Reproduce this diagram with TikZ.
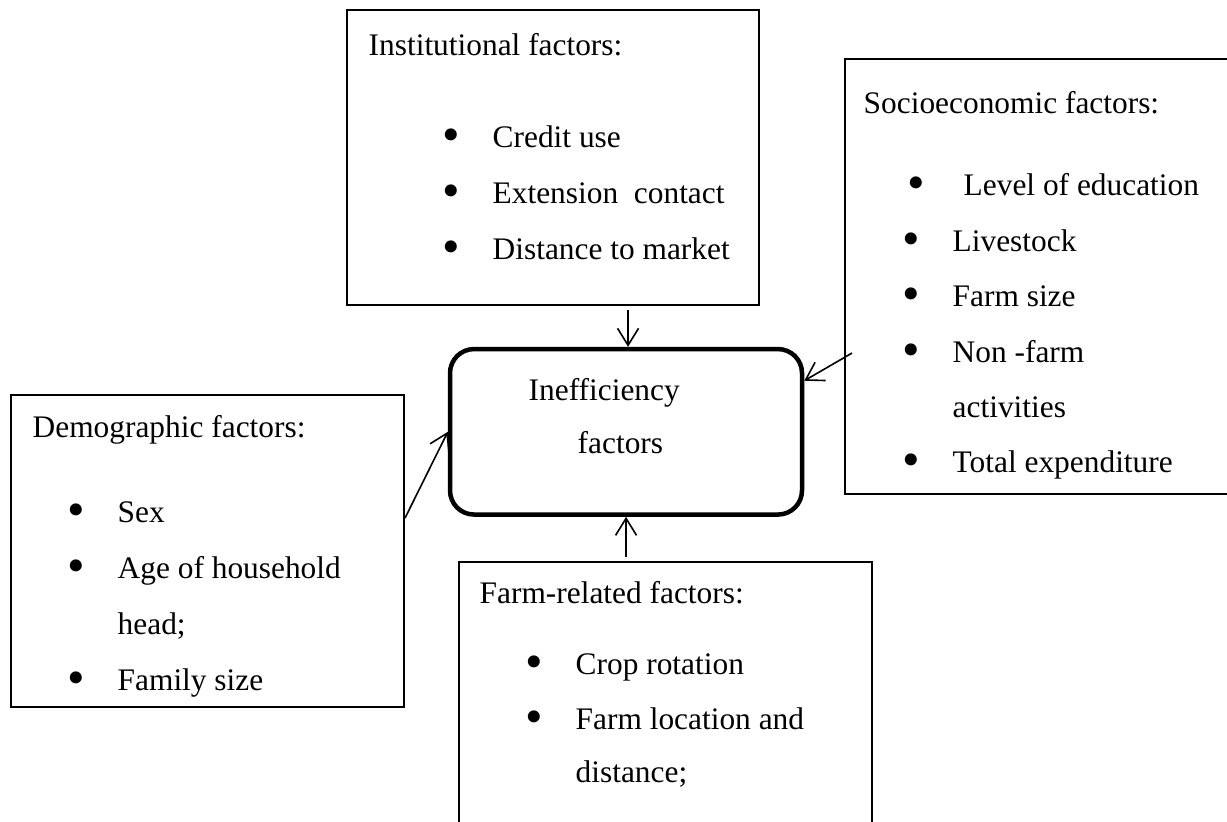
\documentclass[tikz,border=0pt]{standalone}
\usepackage{fontspec}
\setmainfont{Liberation Serif}
\usetikzlibrary{arrows.meta}
\newcommand{\bul}[1][3.3mm]{\llap{\raisebox{-0.13em}{\scalebox{1.6}{\textbullet}}\hspace{#1}}}
\begin{document}
\begin{tikzpicture}[scale=0.1,
  every node/.style={inner sep=0pt, font=\fontsize{8.93}{11}\selectfont},
  factorbox/.style={draw, line width=0.13mm},
  txt/.style={anchor=base west},
  link/.style={line width=0.16mm, -{Straight Barb[length=1.7mm,width=2.1mm]}}]
\useasboundingbox (0,0) rectangle (122.7,-82.1);
\clip (0,0) rectangle (122.7,-82.1);
% boxes
\node [factorbox, minimum width=41.2mm, minimum height=29.5mm] (inst) at (55.3,-15.75) {};
\node [factorbox, minimum width=40.5mm, minimum height=43.5mm] (socio) at (104.75,-27.65) {};
\node [factorbox, minimum width=39.3mm, minimum height=31.2mm] (demo) at (20.75,-55.1) {};
\node [factorbox, minimum width=41.3mm, minimum height=28.8mm] (farm) at (66.55,-70.6) {};
\node [draw, line width=0.45mm, rounded corners=2.4mm, minimum width=35.2mm, minimum height=16.55mm] (ineff) at (62.6,-43.18) {};
% centre
\node [txt] (ineff1) at (52.8,-40.0) {Inefficiency};
\node [txt] (ineff2) at (57.7,-45.3) {factors};
% institutional
\node [txt] (insthead) at (36.8,-5.5) {Institutional factors:};
\node [txt] (inst1) at (49.2,-14.7) {\bul Credit use};
\node [txt] (inst2) at (49.2,-20.3) {\bul Extension~~contact};
\node [txt] (inst3) at (49.2,-25.9) {\bul Distance to market};
% socioeconomic
\node [txt] (sociohead) at (86.3,-11.3) {Socioeconomic factors:};
\node [txt] (socio1) at (96.3,-19.5) {\bul[3.9mm]Level of education};
\node [txt] (socio2) at (95.2,-25.1) {\bul Livestock};
\node [txt] (socio3) at (95.2,-30.6) {\bul Farm size};
\node [txt] (socio4) at (95.2,-36.2) {\bul Non -farm};
\node [txt] (socio5) at (95.2,-41.7) {activities};
\node [txt] (socio6) at (95.2,-47.2) {\bul Total expenditure};
% demographic
\node [txt] (demohead) at (3.2,-43.7) {Demographic factors:};
\node [txt] (demo1) at (11.7,-52.2) {\bul Sex};
\node [txt] (demo2) at (11.7,-57.8) {\bul Age of household};
\node [txt] (demo3) at (11.7,-63.4) {head;};
\node [txt] (demo4) at (11.7,-69.0) {\bul Family size};
% farm-related
\node [txt] (farmhead) at (47.9,-60.3) {Farm-related factors:};
\node [txt] (farm1) at (57.5,-67.4) {\bul Crop rotation};
\node [txt] (farm2) at (57.5,-72.9) {\bul Farm location and};
\node [txt] (farm3) at (57.5,-78.2) {distance;};
% arrows
\coordinate (instout) at (62.8,-31.0);
\coordinate (farmout) at (62.6,-55.7);
\coordinate (demoout) at (40.5,-51.8);
\coordinate (socioout) at (85.2,-35.3);
\draw [link] (instout) -- (instout |- ineff.north);
\draw [link] (farmout) -- (farmout |- ineff.south);
\draw [link] (demoout) -- (ineff.west);
\draw [link] (socioout) -- (ineff.16.6);
\end{tikzpicture}
\end{document}
